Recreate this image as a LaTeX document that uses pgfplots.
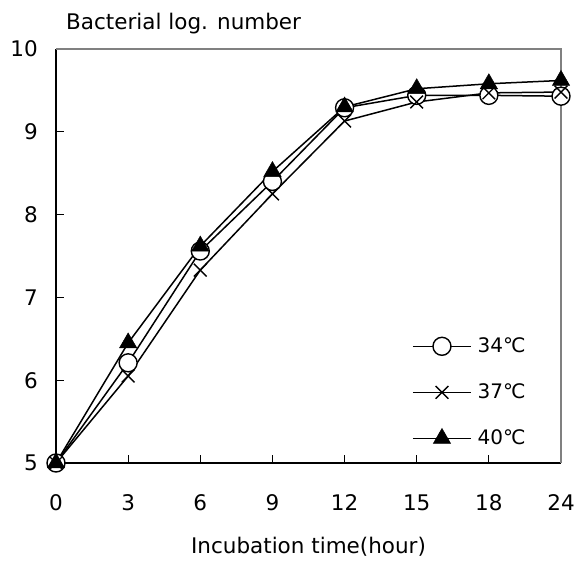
\documentclass[border=0pt]{standalone}
\usepackage{pgfplots}
\pgfplotsset{compat=1.18}
\usepackage{fontspec}
\setmainfont{DejaVu Sans}
\begin{document}
\fontsize{21.5}{25}\selectfont
\begin{tikzpicture}
\begin{axis}[
  scale only axis, width=505pt, height=414pt,
  xmin=0, xmax=7, ymin=5, ymax=10,
  axis x line*=bottom, axis y line*=left,
  axis line style={line width=1.1pt, -, black},
  xtick={0,...,7}, xticklabels={0,3,6,9,12,15,18,24},
  ytick={5,...,10},
  tick align=inside, major tick length=8pt,
  tick style={line width=1pt, black},
  /pgf/number format/assume math mode=true,
  tick label style={font=\fontsize{21.5}{25}\selectfont, inner sep=0pt},
  xticklabel style={anchor=base, yshift=-48pt},
  yticklabel style={anchor=east, xshift=-18pt},
  xlabel={Incubation time(hour)},
  xlabel style={font=\fontsize{21.5}{25}\selectfont, at={(axis description cs:0.5,0)}, anchor=base, yshift=-91pt, inner sep=0pt},
  clip=false,
  legend style={draw=none, fill=none, at={(0.705,0.309)}, anchor=north west, row sep=24pt, column sep=4pt, font=\fontsize{20}{24}\selectfont, inner sep=0pt},
  legend cell align=left,
  legend image code/.code={
    \draw[mark repeat=2,mark phase=2,#1] plot coordinates {(0pt,0pt) (29pt,0pt) (58pt,0pt)};
  },
  every axis plot/.append style={line width=1.5pt, black},
]
\addplot[mark=*, mark size=9pt, mark options={fill=white, line width=1.4pt}] coordinates {
  (0,5.0) (1,6.21) (2,7.56) (3,8.40) (4,9.29) (5,9.44) (6,9.44) (7,9.43)};
\addlegendentry{34℃}
\addplot[mark=x, mark size=9pt, mark options={line width=1.4pt}] coordinates {
  (0,5.0) (1,6.05) (2,7.33) (3,8.25) (4,9.13) (5,9.36) (6,9.47) (7,9.48)};
\addlegendentry{37℃}
\addplot[mark=triangle*, mark size=10pt, mark options={fill=black, line width=0.5pt}] coordinates {
  (0,5.0) (1,6.45) (2,7.62) (3,8.52) (4,9.30) (5,9.52) (6,9.58) (7,9.62)};
\addlegendentry{40℃}
\draw[gray, line width=1.1pt] (rel axis cs:0,1) -- (rel axis cs:1,1) -- (rel axis cs:1,0);
\node[anchor=base west, xshift=10pt, yshift=19pt, inner sep=0pt, font=\fontsize{21.5}{25}\selectfont] at (rel axis cs:0,1) {Bacterial log. number};
\path ([xshift=-56pt,yshift=49pt]rel axis cs:0,1) ([xshift=16pt,yshift=-100pt]rel axis cs:1,0);
\end{axis}
\end{tikzpicture}
\end{document}
